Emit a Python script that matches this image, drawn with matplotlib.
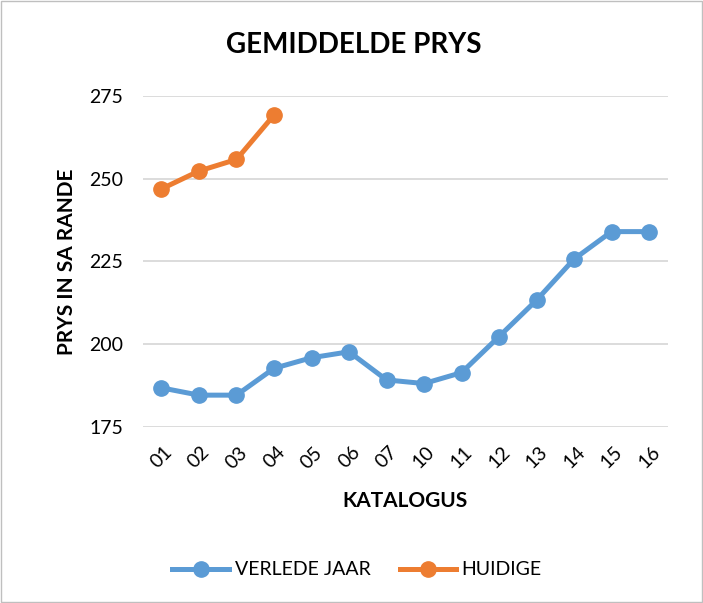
import matplotlib.pyplot as plt
from matplotlib.patches import Rectangle

plt.rcParams['font.family'] = ['Lato', 'DejaVu Sans']

katalogus = ['01', '02', '03', '04', '05', '06', '07', '10', '11', '12', '13', '14', '15', '16']
verlede_jaar = [186.8, 184.6, 184.6, 192.7, 195.9, 197.7, 189.2, 188.1, 191.4, 202.3, 213.3, 225.7, 234.0, 234.0]
huidige = [246.9, 252.3, 255.8, 269.2]

fig = plt.figure(figsize=(7.03, 6.03), dpi=100)
ax = fig.add_axes([0.203, 0.292, 0.747, 0.549])

x = list(range(len(katalogus)))
ax.plot(x, verlede_jaar, color='#5B9BD5', lw=3.6, marker='o', ms=11, label='VERLEDE JAAR', zorder=3)
ax.plot(x[:len(huidige)], huidige, color='#ED7D31', lw=3.6, marker='o', ms=11, label='HUIDIGE', zorder=3)

ax.set_xlim(-0.5, len(katalogus) - 0.5)
ax.set_ylim(175, 275)
ax.set_yticks([175, 200, 225, 250, 275])
ax.set_xticks(x)
ax.set_xticklabels(katalogus, rotation=45, ha='center', fontsize=14)
ax.tick_params(axis='y', labelsize=14, length=0, pad=14)
ax.tick_params(axis='x', length=0, pad=12)
ax.grid(axis='y', color='#D9D9D9', lw=1.3)
ax.set_axisbelow(True)
for s in ax.spines.values():
    s.set_visible(False)

fig.text(0.503, 0.925, 'GEMIDDELDE PRYS', fontsize=20, fontweight='bold', ha='center', va='center')
ax.set_xlabel('KATALOGUS', fontsize=15, fontweight='bold', labelpad=14)
ax.set_ylabel('PRYS IN SA RANDE', fontsize=15, fontweight='bold', labelpad=9)

fig.legend(loc='center', bbox_to_anchor=(0.508, 0.055), ncol=2, frameon=False,
           fontsize=14, handlelength=2.9, columnspacing=1.5, handletextpad=0.3)

fig.patches.append(Rectangle((0.002, 0.002), 0.996, 0.996, transform=fig.transFigure,
                             fill=False, edgecolor='#BFBFBF', lw=1))

fig.savefig('out.png', dpi=100)
